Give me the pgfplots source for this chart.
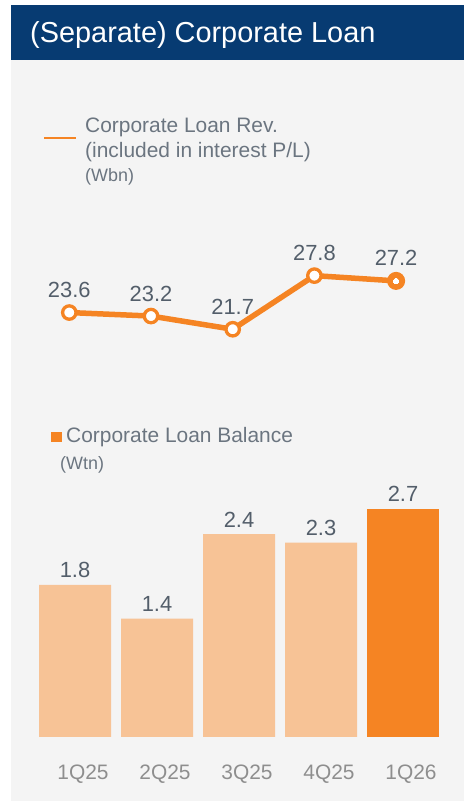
\documentclass[border=0pt]{standalone}
\usepackage{pgfplots}
\pgfplotsset{compat=1.18}
\usepackage{fontspec}
\setmainfont{Liberation Sans}
\definecolor{titleblue}{HTML}{073B72}
\definecolor{panelgray}{HTML}{F4F4F4}
\definecolor{orng}{HTML}{F58423}
\definecolor{lightorng}{HTML}{F7C396}
\definecolor{valtext}{HTML}{535E6A}
\definecolor{legtext}{HTML}{6B7580}
\definecolor{ticktext}{HTML}{8E8E8E}
\begin{document}
\begin{tikzpicture}[x=1bp,y=1bp]
\path[use as bounding box] (0,0) rectangle (464,801);
\fill[panelgray] (11,0) rectangle (464,741);
\fill[titleblue] (11,741) rectangle (464,796);
\node[anchor=base west, inner sep=0, text=white, font=\fontsize{29}{34}\selectfont] at (30,758) {(Separate) Corporate Loan};
% line legend
\draw[orng, line width=2.5bp] (44,663) -- (76,663);
\node[anchor=base west, inner sep=0, text=legtext, font=\fontsize{21}{25}\selectfont] at (85,668) {Corporate Loan Rev.};
\node[anchor=base west, inner sep=0, text=legtext, font=\fontsize{21}{25}\selectfont] at (85,643) {(included in interest P/L)};
\node[anchor=base west, inner sep=0, text=legtext, font=\fontsize{18}{21}\selectfont] at (85,619) {(Wbn)};
% bar legend
\fill[orng] (51,359) rectangle (62,369);
\node[anchor=base west, inner sep=0, text=legtext, font=\fontsize{21}{25}\selectfont] at (66,358) {Corporate Loan Balance};
\node[anchor=base west, inner sep=0, text=legtext, font=\fontsize{18}{21}\selectfont] at (60,331) {(Wtn)};
% line chart
\begin{axis}[at={(28.45bp,456.8bp)}, anchor=south west, scale only axis,
  width=408.5bp, height=87.9bp, xmin=-0.5, xmax=4.5, ymin=20, ymax=30,
  hide axis, clip=false]
\addplot[orng, line width=5.5bp, mark=*, mark size=6.7bp,
  mark options={fill=white, draw=orng, line width=3.3bp},
  nodes near coords, point meta=explicit symbolic,
  every node near coord/.style={anchor=base, inner sep=0, yshift=15bp, text=valtext, font=\fontsize{22}{26}\selectfont}]
  coordinates {(0,23.6)[23.6] (1,23.2)[23.2] (2,21.7)[21.7] (3,27.8)[27.8] (4,27.2)[27.2]};
\addplot[only marks, mark=*, mark size=7.5bp, mark options={fill=orng, draw=orng, line width=3bp}]
  coordinates {(4,27.2)};
\addplot[only marks, mark=*, mark size=2.6bp, mark options={fill=white, draw=white, line width=0pt}]
  coordinates {(4,27.2)};
\end{axis}
% bar chart
\begin{axis}[at={(34bp,64bp)}, anchor=south west, scale only axis,
  width=410bp, height=253.5bp, xmin=-0.5, xmax=4.5, ymin=0, ymax=3,
  axis line style={draw=none}, major tick length=0pt, ytick=\empty,
  xtick={0,1,2,3,4}, xticklabels={1Q25,2Q25,3Q25,4Q25,1Q26},
  xticklabel style={anchor=base, inner sep=0, yshift=-43bp, xshift=8bp, text=ticktext, font=\fontsize{21}{25}\selectfont},
  ybar, bar width=72bp, clip=false,
  nodes near coords, point meta=explicit symbolic,
  every node near coord/.style={anchor=base, inner sep=0, yshift=7bp, text=valtext, font=\fontsize{22}{26}\selectfont}]
\addplot[fill=lightorng, draw=none, bar shift=0pt]
  coordinates {(0,1.8)[1.8] (1,1.4)[1.4] (2,2.4)[2.4] (3,2.3)[2.3]};
\addplot[fill=orng, draw=none, bar shift=0pt]
  coordinates {(4,2.7)[2.7]};
\end{axis}
\end{tikzpicture}
\end{document}
